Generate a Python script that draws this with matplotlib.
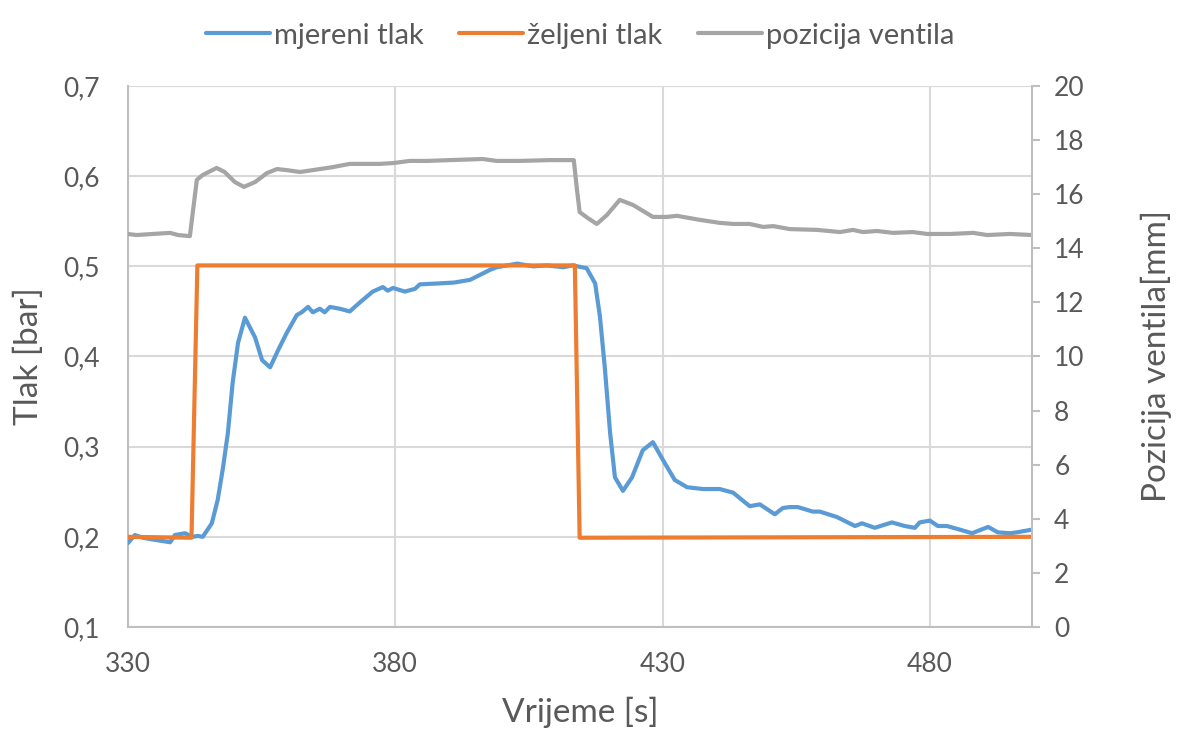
import numpy as np
import matplotlib
matplotlib.use("Agg")
import matplotlib.pyplot as plt
from matplotlib.ticker import FuncFormatter, MultipleLocator, FixedLocator

# mjereni tlak [bar]
t_meas = [330, 331.3, 332.8, 334.7, 337.9, 338.8, 340.7, 342, 343.1, 344, 345.7, 346.8,
          347.8, 348.7, 349.6, 350.6, 351.9, 353.8, 355.1, 356.6, 358.1, 359.7, 361.6,
          362.5, 363.7, 364.6, 365.9, 366.8, 367.8, 369.6, 371.5, 373.4, 375.8, 377.7,
          378.6, 379.6, 381.8, 383.7, 384.6, 388, 391, 394, 397.7, 399, 402.8, 405.8,
          408.4, 411.4, 413.2, 415.8, 417.4, 418.3, 419.2, 420.2, 421.1, 422.6, 424.3,
          426.3, 428.2, 430.1, 432.3, 434.6, 437.6, 440.7, 443.2, 446.3, 448.2, 451.0,
          452.5, 453.8, 455.3, 458.1, 459.4, 462.6, 466, 467.3, 469.7, 472.9, 475.3,
          477.2, 478.1, 480.0, 481.5, 483.2, 485.6, 487.9, 490.9, 492.7, 495.0, 496.3,
          499.1]
p_meas = [0.193, 0.202, 0.199, 0.197, 0.194, 0.202, 0.204, 0.200, 0.201, 0.200, 0.215, 0.241,
          0.277, 0.315, 0.371, 0.415, 0.443, 0.421, 0.396, 0.388, 0.407, 0.426, 0.446,
          0.449, 0.455, 0.449, 0.453, 0.449, 0.455, 0.453, 0.450, 0.460, 0.472, 0.477,
          0.473, 0.476, 0.472, 0.475, 0.480, 0.481, 0.482, 0.485, 0.496, 0.499, 0.503, 0.500,
          0.501, 0.499, 0.501, 0.498, 0.481, 0.444, 0.388, 0.315, 0.266, 0.251, 0.266,
          0.296, 0.305, 0.285, 0.263, 0.255, 0.253, 0.253, 0.249, 0.234, 0.236, 0.225,
          0.232, 0.233, 0.233, 0.228, 0.228, 0.222, 0.212, 0.215, 0.210, 0.216, 0.212,
          0.210, 0.216, 0.218, 0.212, 0.212, 0.208, 0.204, 0.211, 0.205, 0.204, 0.205,
          0.208]

# zeljeni tlak [bar]
t_ref = [330, 341.9, 343.0, 413.6, 414.5, 499.1]
p_ref = [0.200, 0.199, 0.501, 0.501, 0.199, 0.200]

# pozicija ventila [mm]
t_valve = [330, 331.6, 334.7, 337.9, 339.4, 341.6, 342.2, 342.9, 344, 346.6, 348.1, 350,
           351.7, 353.8, 356, 357.9, 359.7, 362.2, 364.6, 368.3, 371.5, 377.1, 379.6,
           382.7, 386, 390.2, 396.4, 399, 403.3, 408.9, 412.7, 413.4, 414.0, 414.5, 416.0,
           417.7, 419.6, 422, 424.5, 428.2, 430.8, 432.7, 437, 440.7, 443.2, 446.3, 448.8,
           450.7, 453.8, 458.9, 463.2, 465.6, 467.5, 470.1, 473.1, 476.8, 479.5, 483.8,
           488.1, 490.7, 495, 499.1]
v_valve = [14.53, 14.49, 14.53, 14.57, 14.49, 14.45, 15.42, 16.53, 16.71, 16.97, 16.82, 16.45,
           16.27, 16.45, 16.78, 16.93, 16.89, 16.82, 16.89, 17.0, 17.12, 17.12, 17.15,
           17.23, 17.23, 17.26, 17.30, 17.23, 17.23, 17.26, 17.26, 17.26, 16.16, 15.34, 15.12,
           14.9, 15.23, 15.79, 15.6, 15.16, 15.16, 15.2, 15.05, 14.94, 14.9, 14.9, 14.79,
           14.82, 14.71, 14.68, 14.6, 14.68, 14.6, 14.64, 14.57, 14.6, 14.53, 14.53,
           14.57, 14.49, 14.53, 14.49]

x_ticks = [330, 380, 430, 480]

txt = '#595959'
grid_c = '#d9d9d9'
plt.rcParams['font.family'] = ['Lato', 'DejaVu Sans']

fig = plt.figure(figsize=(11.84, 7.4), dpi=100)
ax = fig.add_axes([0.108, 0.1527, 0.7636, 0.7311])
ax2 = ax.twinx()

kw = dict(lw=3.0, solid_joinstyle='round', solid_capstyle='round')
l1, = ax.plot(t_meas, p_meas, color='#5B9BD5', label='mjereni tlak', zorder=3, **kw)
l2, = ax.plot(t_ref, p_ref, color='#ED7D31', label='željeni tlak', zorder=4, **kw)
l3, = ax2.plot(t_valve, v_valve, color='#A5A5A5', label='pozicija ventila', **kw)

ax.set_xlim(330, 499.1)
ax.set_ylim(0.1, 0.7)
ax2.set_ylim(0, 20)
ax.xaxis.set_major_locator(FixedLocator(x_ticks))
ax.yaxis.set_major_locator(MultipleLocator(0.1))
ax2.yaxis.set_major_locator(MultipleLocator(2))
ax.yaxis.set_major_formatter(FuncFormatter(lambda v, p: f'{v:.1f}'.replace('.', ',')))

ax.grid(True, color=grid_c, lw=1.5)
ax.set_axisbelow(True)
for a in (ax, ax2):
    for s in a.spines.values():
        s.set_visible(False)
for a, side in ((ax, 'left'), (ax, 'bottom'), (ax2, 'right')):
    a.spines[side].set_visible(True)
    a.spines[side].set_color('#bfbfbf')
    a.spines[side].set_linewidth(1.5)

ax.tick_params(axis='both', length=0, labelsize=19, labelcolor=txt)
ax.tick_params(axis='y', pad=20)
ax.tick_params(axis='x', pad=18)
ax2.tick_params(axis='y', length=6, color='#bfbfbf', width=1.5, labelsize=19,
                labelcolor=txt, pad=10)

ax.set_xlabel('Vrijeme [s]', fontsize=24, color=txt, labelpad=14)
ax.set_ylabel('Tlak [bar]', fontsize=24, color=txt, labelpad=14)
ax2.set_ylabel('Pozicija ventila[mm]', fontsize=24, color=txt, labelpad=40)

leg = fig.legend(handles=[l1, l2, l3], loc='upper center', bbox_to_anchor=(0.49, 1.005),
                 ncol=3, frameon=False, fontsize=21, handlelength=2.2, handletextpad=0.15,
                 columnspacing=1.2)
for t in leg.get_texts():
    t.set_color(txt)

fig.savefig('out.png', dpi=100)
